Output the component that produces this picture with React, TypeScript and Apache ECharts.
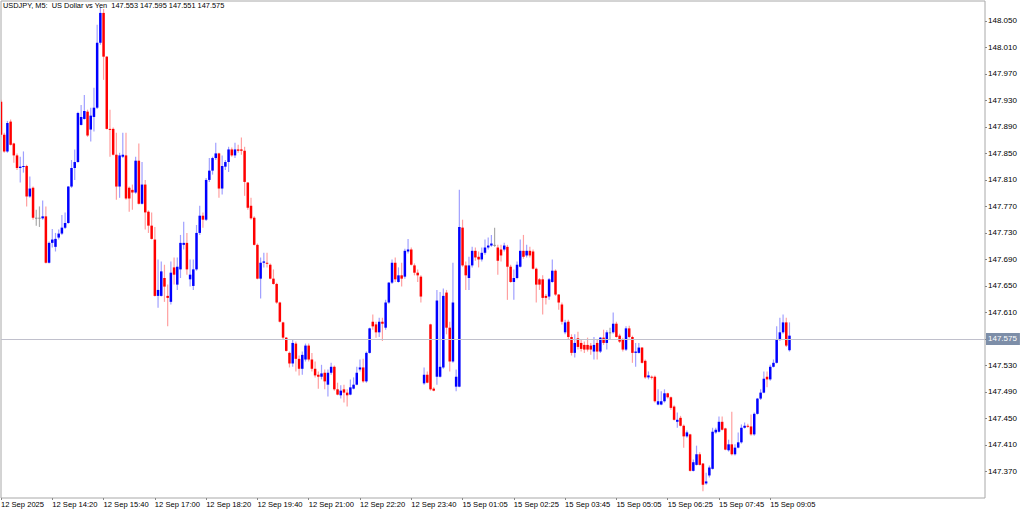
import React, { useEffect, useRef } from 'react';
import * as echarts from 'echarts';

const titleText = 'USDJPY, M5:  US Dollar vs Yen  147.553 147.595 147.551 147.575';
const currentPrice = 147.575;

// each bar: [open, close, low, high]
const sep12Bars: number[][] = [
  [147.928, 147.878, 147.874, 147.931], [147.878, 147.853, 147.851, 147.881], [147.853, 147.896, 147.851, 147.899],
  [147.898, 147.863, 147.862, 147.901], [147.865, 147.847, 147.836, 147.866], [147.847, 147.828, 147.825, 147.850],
  [147.828, 147.830, 147.806, 147.845], [147.830, 147.831, 147.821, 147.853], [147.831, 147.785, 147.770, 147.833],
  [147.785, 147.797, 147.783, 147.815], [147.798, 147.753, 147.750, 147.800], [147.753, 147.753, 147.741, 147.765],
  [147.753, 147.753, 147.739, 147.770], [147.752, 147.755, 147.750, 147.779], [147.755, 147.685, 147.684, 147.770],
  [147.685, 147.715, 147.684, 147.717], [147.715, 147.720, 147.708, 147.736], [147.709, 147.721, 147.702, 147.730],
  [147.723, 147.729, 147.720, 147.735], [147.729, 147.738, 147.727, 147.757], [147.738, 147.745, 147.736, 147.761],
  [147.745, 147.800, 147.744, 147.801], [147.800, 147.828, 147.798, 147.840], [147.828, 147.837, 147.810, 147.856],
  [147.837, 147.911, 147.836, 147.913], [147.893, 147.905, 147.892, 147.923], [147.902, 147.914, 147.901, 147.938],
  [147.913, 147.877, 147.875, 147.916], [147.886, 147.907, 147.868, 147.919], [147.905, 147.919, 147.883, 147.949],
  [147.919, 148.017, 147.917, 148.044], [148.017, 148.062, 148.014, 148.070], [148.062, 147.996, 147.961, 148.068],
  [147.996, 147.887, 147.886, 147.997], [147.887, 147.886, 147.845, 147.916], [147.887, 147.848, 147.847, 147.889],
  [147.848, 147.800, 147.780, 147.881], [147.800, 147.847, 147.783, 147.851], [147.845, 147.848, 147.843, 147.881],
  [147.847, 147.782, 147.780, 147.881], [147.798, 147.782, 147.762, 147.800], [147.795, 147.791, 147.765, 147.803],
  [147.791, 147.839, 147.789, 147.845], [147.839, 147.774, 147.773, 147.865], [147.774, 147.803, 147.773, 147.837],
  [147.803, 147.761, 147.735, 147.810], [147.762, 147.741, 147.730, 147.764], [147.741, 147.721, 147.720, 147.761],
  [147.720, 147.635, 147.634, 147.739], [147.635, 147.644, 147.617, 147.690], [147.635, 147.672, 147.634, 147.687],
  [147.662, 147.649, 147.626, 147.682], [147.635, 147.632, 147.589, 147.652], [147.626, 147.670, 147.622, 147.687],
  [147.678, 147.667, 147.652, 147.693], [147.652, 147.679, 147.644, 147.693], [147.675, 147.715, 147.662, 147.727],
  [147.712, 147.715, 147.705, 147.747], [147.715, 147.675, 147.667, 147.730], [147.660, 147.667, 147.649, 147.690],
  [147.650, 147.675, 147.644, 147.690], [147.675, 147.730, 147.673, 147.742], [147.730, 147.756, 147.727, 147.771],
  [147.756, 147.750, 147.738, 147.761], [147.750, 147.810, 147.748, 147.813], [147.810, 147.824, 147.807, 147.843],
  [147.824, 147.843, 147.818, 147.845], [147.843, 147.850, 147.840, 147.866], [147.850, 147.797, 147.783, 147.851],
  [147.797, 147.831, 147.788, 147.847], [147.830, 147.837, 147.825, 147.840], [147.837, 147.856, 147.822, 147.860],
  [147.856, 147.847, 147.845, 147.859], [147.847, 147.856, 147.843, 147.866], [147.856, 147.854, 147.851, 147.863],
  [147.856, 147.854, 147.848, 147.874], [147.854, 147.807, 147.786, 147.860], [147.806, 147.768, 147.765, 147.807],
  [147.771, 147.752, 147.750, 147.783], [147.753, 147.712, 147.711, 147.755], [147.712, 147.661, 147.660, 147.714],
  [147.661, 147.685, 147.631, 147.693], [147.685, 147.687, 147.678, 147.700], [147.685, 147.684, 147.678, 147.700],
  [147.682, 147.661, 147.660, 147.684], [147.661, 147.653, 147.652, 147.675], [147.653, 147.625, 147.623, 147.655],
  [147.625, 147.596, 147.595, 147.626], [147.595, 147.572, 147.569, 147.596], [147.572, 147.552, 147.551, 147.573],
  [147.549, 147.533, 147.527, 147.551], [147.533, 147.564, 147.528, 147.569], [147.563, 147.540, 147.521, 147.566],
  [147.540, 147.525, 147.515, 147.545], [147.525, 147.546, 147.516, 147.551], [147.539, 147.560, 147.536, 147.563],
  [147.560, 147.539, 147.536, 147.563], [147.539, 147.525, 147.521, 147.549], [147.525, 147.515, 147.512, 147.536],
  [147.516, 147.513, 147.495, 147.521], [147.513, 147.518, 147.509, 147.531], [147.519, 147.506, 147.494, 147.524],
  [147.501, 147.519, 147.483, 147.524], [147.519, 147.528, 147.516, 147.534], [147.528, 147.494, 147.492, 147.530],
  [147.494, 147.486, 147.485, 147.504], [147.485, 147.492, 147.480, 147.500], [147.494, 147.489, 147.474, 147.501],
  [147.489, 147.485, 147.468, 147.494], [147.486, 147.497, 147.485, 147.509], [147.495, 147.501, 147.494, 147.512],
  [147.501, 147.519, 147.500, 147.528], [147.524, 147.527, 147.521, 147.539], [147.527, 147.506, 147.504, 147.540],
  [147.506, 147.549, 147.504, 147.551], [147.549, 147.586, 147.548, 147.587], [147.596, 147.589, 147.584, 147.607],
  [147.592, 147.580, 147.572, 147.596], [147.580, 147.596, 147.573, 147.602], [147.596, 147.593, 147.567, 147.602],
  [147.587, 147.625, 147.584, 147.629], [147.625, 147.655, 147.623, 147.656], [147.655, 147.685, 147.653, 147.690],
  [147.685, 147.660, 147.656, 147.693], [147.656, 147.666, 147.655, 147.678], [147.666, 147.661, 147.649, 147.685],
  [147.664, 147.703, 147.661, 147.706], [147.702, 147.705, 147.699, 147.721], [147.705, 147.682, 147.681, 147.708],
  [147.681, 147.670, 147.666, 147.684], [147.670, 147.666, 147.656, 147.675], [147.664, 147.634, 147.625, 147.666],
];

const sep15Bars: number[][] = [
  [147.503, 147.516, 147.501, 147.527], [147.516, 147.504, 147.503, 147.521], [147.592, 147.494, 147.492, 147.593],
  [147.495, 147.492, 147.491, 147.497], [147.513, 147.628, 147.501, 147.644], [147.513, 147.528, 147.512, 147.641],
  [147.527, 147.635, 147.525, 147.646], [147.640, 147.587, 147.577, 147.644], [147.587, 147.536, 147.521, 147.596],
  [147.536, 147.625, 147.534, 147.685], [147.498, 147.513, 147.491, 147.524], [147.498, 147.739, 147.497, 147.795],
  [147.738, 147.681, 147.679, 147.750], [147.681, 147.666, 147.644, 147.687], [147.662, 147.681, 147.644, 147.694],
  [147.681, 147.703, 147.678, 147.709], [147.703, 147.693, 147.688, 147.708], [147.694, 147.690, 147.678, 147.702],
  [147.690, 147.700, 147.687, 147.708], [147.700, 147.708, 147.697, 147.720], [147.708, 147.711, 147.705, 147.723],
  [147.711, 147.714, 147.709, 147.727], [147.712, 147.712, 147.709, 147.738], [147.708, 147.688, 147.667, 147.712],
  [147.705, 147.696, 147.687, 147.712], [147.705, 147.711, 147.702, 147.715], [147.709, 147.679, 147.629, 147.712],
  [147.679, 147.656, 147.655, 147.682], [147.656, 147.662, 147.629, 147.675], [147.662, 147.682, 147.660, 147.687],
  [147.679, 147.703, 147.678, 147.720], [147.703, 147.694, 147.691, 147.727], [147.696, 147.703, 147.693, 147.712],
  [147.703, 147.696, 147.693, 147.709], [147.702, 147.676, 147.675, 147.705], [147.676, 147.652, 147.625, 147.678],
  [147.660, 147.652, 147.644, 147.662], [147.660, 147.632, 147.607, 147.666], [147.635, 147.632, 147.622, 147.638],
  [147.634, 147.660, 147.629, 147.662], [147.656, 147.673, 147.655, 147.690], [147.673, 147.637, 147.635, 147.675],
  [147.637, 147.625, 147.614, 147.638], [147.622, 147.596, 147.592, 147.625], [147.580, 147.595, 147.577, 147.599],
  [147.596, 147.573, 147.569, 147.599], [147.573, 147.549, 147.545, 147.577], [147.549, 147.564, 147.542, 147.577],
  [147.571, 147.558, 147.554, 147.581], [147.564, 147.555, 147.551, 147.569], [147.561, 147.554, 147.549, 147.566],
  [147.561, 147.554, 147.551, 147.572], [147.560, 147.554, 147.546, 147.564], [147.551, 147.561, 147.539, 147.573],
  [147.564, 147.551, 147.539, 147.569], [147.551, 147.572, 147.549, 147.573], [147.572, 147.564, 147.561, 147.584],
  [147.564, 147.580, 147.554, 147.583], [147.580, 147.580, 147.569, 147.587], [147.580, 147.593, 147.578, 147.610],
  [147.593, 147.573, 147.572, 147.596], [147.575, 147.566, 147.564, 147.578], [147.569, 147.554, 147.551, 147.572],
  [147.554, 147.586, 147.552, 147.589], [147.586, 147.573, 147.571, 147.590], [147.573, 147.549, 147.534, 147.575],
  [147.549, 147.551, 147.528, 147.564], [147.549, 147.557, 147.548, 147.564], [147.557, 147.534, 147.533, 147.558],
  [147.537, 147.512, 147.510, 147.539], [147.512, 147.515, 147.509, 147.521], [147.513, 147.512, 147.509, 147.515],
  [147.513, 147.476, 147.474, 147.515], [147.471, 147.476, 147.470, 147.494], [147.471, 147.476, 147.470, 147.491],
  [147.476, 147.488, 147.474, 147.494], [147.488, 147.482, 147.480, 147.489], [147.482, 147.466, 147.463, 147.483],
  [147.468, 147.448, 147.447, 147.470], [147.445, 147.448, 147.436, 147.459], [147.451, 147.439, 147.438, 147.454],
  [147.439, 147.423, 147.406, 147.441], [147.423, 147.429, 147.421, 147.432], [147.426, 147.371, 147.370, 147.427],
  [147.371, 147.384, 147.370, 147.388], [147.380, 147.396, 147.379, 147.409], [147.396, 147.380, 147.379, 147.399],
  [147.382, 147.350, 147.340, 147.383], [147.352, 147.355, 147.350, 147.368], [147.364, 147.376, 147.361, 147.379],
  [147.374, 147.430, 147.373, 147.436], [147.429, 147.433, 147.427, 147.436], [147.430, 147.445, 147.429, 147.453],
  [147.445, 147.433, 147.432, 147.453], [147.435, 147.403, 147.402, 147.436], [147.402, 147.411, 147.400, 147.418],
  [147.411, 147.396, 147.394, 147.460], [147.396, 147.406, 147.394, 147.411], [147.406, 147.414, 147.405, 147.429],
  [147.414, 147.436, 147.412, 147.441], [147.436, 147.439, 147.435, 147.444], [147.439, 147.438, 147.436, 147.442],
  [147.438, 147.426, 147.424, 147.456], [147.426, 147.457, 147.424, 147.459], [147.457, 147.480, 147.456, 147.481],
  [147.480, 147.489, 147.478, 147.494], [147.489, 147.510, 147.488, 147.521], [147.513, 147.509, 147.497, 147.521],
  [147.509, 147.528, 147.507, 147.531], [147.528, 147.534, 147.527, 147.539], [147.534, 147.569, 147.533, 147.589],
  [147.569, 147.580, 147.567, 147.602], [147.580, 147.595, 147.578, 147.607], [147.595, 147.560, 147.558, 147.602],
  [147.553, 147.575, 147.551, 147.595],
];

// axis settings
const yMin = 147.33;
const yMax = 148.08;
const yStep = 0.04;
const emptySlotsRight = 61;

const xTickIndices = [0, 16, 32, 48, 64, 80, 96, 112, 128, 144, 160, 176, 192, 208, 224, 240];
const xTickLabels = [
  '12 Sep 2025', '12 Sep 14:20', '12 Sep 15:40', '12 Sep 17:00', '12 Sep 18:20', '12 Sep 19:40',
  '12 Sep 21:00', '12 Sep 22:20', '12 Sep 23:40', '15 Sep 01:05', '15 Sep 02:25', '15 Sep 03:45',
  '15 Sep 05:05', '15 Sep 06:25', '15 Sep 07:45', '15 Sep 09:05',
];

const pad = (n: number) => (n < 10 ? '0' + n : '' + n);

function buildCategories(total: number): string[] {
  const cats: string[] = [];
  // 12 Sep from 13:00 to 23:55
  for (let m = 13 * 60; m < 24 * 60; m += 5) cats.push('12 Sep ' + pad(Math.floor(m / 60)) + ':' + pad(m % 60));
  // 15 Sep from 00:05
  let m = 5;
  while (cats.length < total) {
    cats.push('15 Sep ' + pad(Math.floor(m / 60)) + ':' + pad(m % 60));
    m += 5;
  }
  return cats;
}

const FONT = "'Liberation Sans', Arial, sans-serif";

export default function App() {
  const ref = useRef<HTMLDivElement>(null);

  useEffect(() => {
    if (!ref.current) return;
    const chart = echarts.init(ref.current, null, { renderer: 'svg' });
    const bars = [...sep12Bars, ...sep15Bars];
    const categories = buildCategories(bars.length + emptySlotsRight);
    const seriesData = bars.map((b, i) => [i, b[0], b[1], b[2], b[3]]);
    const tickSet = new Set(xTickIndices);

    chart.setOption({
      animation: false,
      backgroundColor: '#ffffff',
      title: {
        text: titleText,
        left: 3,
        top: 2,
        padding: 0,
        textStyle: { fontSize: 7.4, fontWeight: 'normal', color: '#000', fontFamily: FONT },
      },
      grid: {
        left: 1,
        top: 1,
        right: 39,
        bottom: 13,
        show: true,
        borderColor: '#a8a8a8',
        borderWidth: 1,
        backgroundColor: 'transparent',
        containLabel: false,
        outerBoundsMode: 'none',
      },
      xAxis: {
        type: 'category',
        data: categories,
        boundaryGap: false,
        axisLine: { show: false },
        axisTick: {
          show: true,
          length: 2,
          interval: (idx: number) => tickSet.has(idx),
          lineStyle: { color: '#888' },
        },
        axisLabel: {
          show: true,
          interval: (idx: number) => tickSet.has(idx),
          formatter: (val: string, idx: number) => {
            const k = xTickIndices.indexOf(idx);
            return k >= 0 ? xTickLabels[k] : val;
          },
          align: 'left',
          margin: 2,
          fontSize: 7.6,
          color: '#000',
          fontFamily: FONT,
        },
        splitLine: { show: false },
      },
      yAxis: {
        type: 'value',
        position: 'right',
        min: yMin,
        max: yMax,
        interval: yStep,
        scale: true,
        axisLine: { show: false },
        axisTick: { show: true, length: 2, lineStyle: { color: '#888' } },
        axisLabel: {
          show: true,
          showMinLabel: false,
          showMaxLabel: false,
          margin: 3,
          fontSize: 8,
          color: '#000',
          fontFamily: FONT,
          formatter: (v: number) => v.toFixed(3),
        },
        splitLine: { show: false },
      },
      series: [
        {
          type: 'custom',
          clip: true,
          data: seriesData,
          encode: { x: 0, y: [1, 2, 3, 4] },
          renderItem: (params: any, api: any) => {
            const idx = api.value(0);
            const o = api.value(1);
            const c = api.value(2);
            const l = api.value(3);
            const h = api.value(4);
            const pH = api.coord([idx, h]);
            const pL = api.coord([idx, l]);
            const pO = api.coord([idx, o]);
            const pC = api.coord([idx, c]);
            const x = pH[0];
            const bull = c > o;
            const bear = c < o;
            const wick = bull ? '#a0a0ff' : bear ? '#ffa0a0' : '#aaaaaa';
            const body = bull ? '#0000ff' : bear ? '#ff0000' : '#8c8c8c';
            const top = Math.min(pO[1], pC[1]);
            const bottom = Math.max(pO[1], pC[1]);
            const hgt = Math.max(bottom - top, 1);
            return {
              type: 'group',
              children: [
                {
                  type: 'line',
                  shape: { x1: x, y1: pH[1], x2: x, y2: pL[1] },
                  style: { stroke: wick, lineWidth: 1.2 },
                },
                {
                  type: 'rect',
                  shape: { x: x - 1.25, y: top, width: 2.5, height: hgt },
                  style: { fill: body },
                },
              ],
            };
          },
          markLine: {
            silent: true,
            symbol: ['none', 'none'],
            animation: false,
            lineStyle: { color: '#c0c0cc', type: 'solid', width: 1 },
            label: {
              show: true,
              position: 'end',
              distance: 1,
              formatter: () => currentPrice.toFixed(3),
              backgroundColor: '#7d8ea8',
              color: '#ffffff',
              fontSize: 8,
              fontFamily: FONT,
              padding: [2, 3, 2, 2],
            },
            data: [{ yAxis: currentPrice }],
          },
          z: 3,
        },
      ],
    });

    return () => chart.dispose();
  }, []);

  return (
    <div
      ref={ref}
      style={{ position: 'fixed', left: 0, top: 0, width: 1024, height: 511, background: '#fff' }}
    />
  );
}
